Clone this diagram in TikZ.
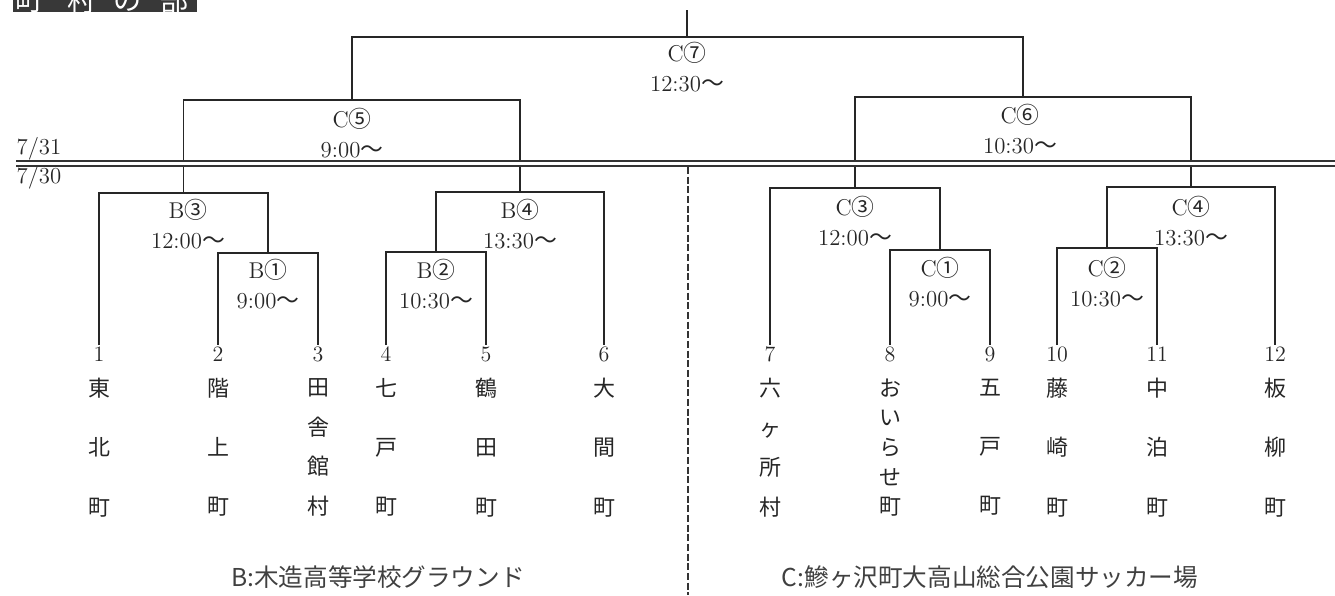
\documentclass[tikz,border=0pt]{standalone}
\usepackage{fontspec}
\newfontfamily\cjk{Noto Sans CJK JP}
\begin{document}
\begin{tikzpicture}[x=0.02cm,y=-0.02cm,
  br/.style={draw=black!85, line width=1.1pt},
  lab/.style={font=\fontsize{13}{17}\selectfont, align=center, inner sep=0pt, anchor=north, text=black!85},
  num/.style={font=\fontsize{12.5}{14}\selectfont, inner sep=1pt, anchor=north, text=black!85},
  team/.style={font=\cjk\fontsize{12.5}{#1}\selectfont, align=center, inner sep=0pt, text=black!85},
  team/.default=33.7pt,
  venue/.style={font=\cjk\fontsize{14}{16}\selectfont, inner sep=0pt, text=black!75}]
\useasboundingbox (0,0) rectangle (1335,595);
% title box (cut off at the top)
\fill[black!78] (13,-30) rectangle (197,12);
\foreach \c/\x [count=\i] in {町/30,村/82,の/128,部/175}
  \node[font=\cjk\fontsize{16}{18}\selectfont, text=white, inner sep=0pt] (tt\i) at (\x,1) {\c};
% date separators
\coordinate (dl1) at (16,161); \coordinate (dr1) at (1335,161);
\coordinate (dl2) at (16,166); \coordinate (dr2) at (1335,166);
\node[font=\fontsize{13}{15}\selectfont, text=black!85, inner sep=0pt] (d31) at (39,149) {7/31};
\node[font=\fontsize{13}{15}\selectfont, text=black!85, inner sep=0pt] (d30) at (39,178) {7/30};
% leaf numbers
\foreach \n/\x in {1/99,2/218,3/318,4/386,5/486,6/604,7/770,8/890,9/990,10/1057,11/1157,12/1275}
  \node[num] (l\n) at (\x,345) {\n};
% match points
\coordinate (B1) at (268,253);
\coordinate (B2) at (436,252);
\coordinate (B3) at (183.5,193);
\coordinate (B4) at (520,192);
\coordinate (C1) at (940,250);
\coordinate (C2) at (1107,248);
\coordinate (C3) at (855,188);
\coordinate (C4) at (1191,187);
\coordinate (C5) at (351.75,100);
\coordinate (C6) at (1023,97);
\coordinate (C7) at (687,37);
\coordinate (top) at (687,10);
% brackets
\draw[br] (l2.north) |- (B1) -| (l3.north);
\draw[br] (l4.north) |- (B2) -| (l5.north);
\draw[br] (l1.north) |- (B3) -| (B1);
\draw[br] (B2) |- (B4) -| (l6.north);
\draw[br] (l8.north) |- (C1) -| (l9.north);
\draw[br] (l10.north) |- (C2) -| (l11.north);
\draw[br] (l7.north) |- (C3) -| (C1);
\draw[br] (C2) |- (C4) -| (l12.north);
\draw[br] (B3) |- (C5) -| (B4);
\draw[br] (C3) |- (C6) -| (C4);
\draw[br] (C5) |- (C7) -| (C6);
\draw[br] (top) -- (C7);
% double line
\fill[white] (dl1) rectangle (dr2);
\draw[draw=black!80, line width=1.2pt] (dl1) -- (dr1);
\draw[draw=black!80, line width=1.2pt] (dl2) -- (dr2);
% dashed divider
\coordinate (dv1) at (688,167); \coordinate (dv2) at (688,595);
\draw[draw=black!80, line width=1pt, dash pattern=on 4pt off 1.5pt] (dv1) -- (dv2);
% match labels
\node[lab] (LB1) at (268,259) {B\cjk{①}\\9:00\cjk{～}};
\node[lab] (LB2) at (436,259) {B\cjk{②}\\10:30\cjk{～}};
\node[lab] (LB3) at (188,199) {B\cjk{③}\\12:00\cjk{～}};
\node[lab] (LB4) at (520,199) {B\cjk{④}\\13:30\cjk{～}};
\node[lab] (LC1) at (940,257) {C\cjk{①}\\9:00\cjk{～}};
\node[lab] (LC2) at (1107,257) {C\cjk{②}\\10:30\cjk{～}};
\node[lab] (LC3) at (855,196) {C\cjk{③}\\12:00\cjk{～}};
\node[lab] (LC4) at (1191,196) {C\cjk{④}\\13:30\cjk{～}};
\node[lab] (LC5) at (352,108) {C\cjk{⑤}\\9:00\cjk{～}};
\node[lab] (LC6) at (1020,104) {C\cjk{⑥}\\10:30\cjk{～}};
\node[lab] (LC7) at (687,42) {C\cjk{⑦}\\12:30\cjk{～}};
% team names
\node[team] (n1) at (99,447.5) {東\\北\\町};
\node[team] (n2) at (218,447.5) {階\\上\\町};
\node[team=22.5pt] (n3) at (318,447.5) {田\\舎\\館\\村};
\node[team] (n4) at (386,447.5) {七\\戸\\町};
\node[team] (n5) at (486,447.5) {鶴\\田\\町};
\node[team] (n6) at (604,447.5) {大\\間\\町};
\node[team=22.5pt] (n7) at (770,447.5) {六\\ヶ\\所\\村};
\node[team=16.9pt] (n8) at (890,447.5) {お\\い\\ら\\せ\\町};
\node[team] (n9) at (990,447.5) {五\\戸\\町};
\node[team] (n10) at (1057,447.5) {藤\\崎\\町};
\node[team] (n11) at (1157,447.5) {中\\泊\\町};
\node[team] (n12) at (1275,447.5) {板\\柳\\町};
% venues
\node[venue] (vb) at (378,577) {B:木造高等学校グラウンド};
\node[venue] (vc) at (990,577) {C:鰺ヶ沢町大高山総合公園サッカー場};
\end{tikzpicture}
\end{document}
